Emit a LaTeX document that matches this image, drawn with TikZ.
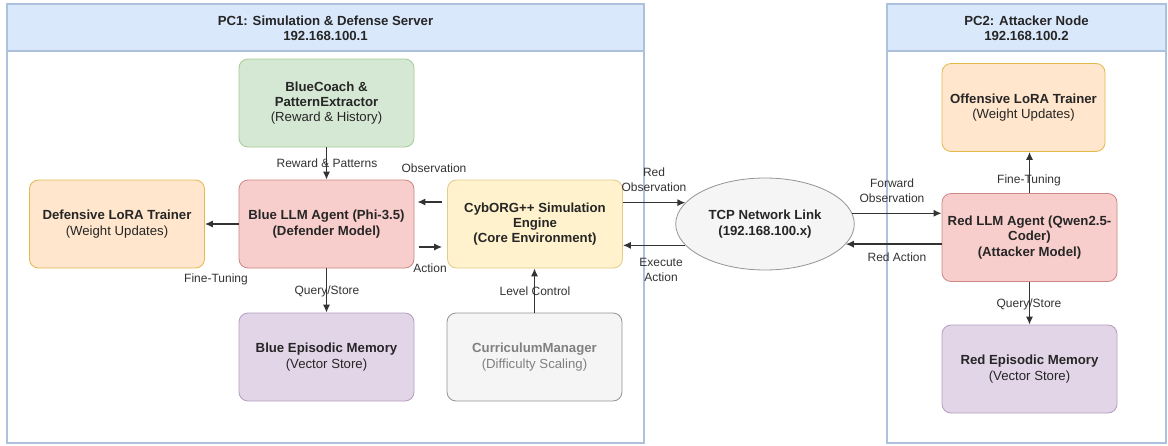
\documentclass[tikz,border=0pt]{standalone}
\usepackage{fontspec}
\setmainfont{Liberation Sans}
\usetikzlibrary{shapes.geometric, arrows.meta}

\definecolor{lanefill}{HTML}{DAE8FC}
\definecolor{laneline}{HTML}{6C8EBF}
\definecolor{greenfill}{HTML}{D5E8D4}
\definecolor{greenline}{HTML}{82B366}
\definecolor{orangefill}{HTML}{FFE6CC}
\definecolor{orangeline}{HTML}{D79B00}
\definecolor{redfill}{HTML}{F8CECC}
\definecolor{redline}{HTML}{B85450}
\definecolor{yellowfill}{HTML}{FFF2CC}
\definecolor{yellowline}{HTML}{D6B656}
\definecolor{purplefill}{HTML}{E1D5E7}
\definecolor{purpleline}{HTML}{9673A6}
\definecolor{grayfill}{HTML}{F5F5F5}
\definecolor{grayline}{HTML}{666666}

\newcommand{\boxfont}{\fontsize{6.6}{7.7}\selectfont\bfseries}
\newcommand{\lblfont}{\fontsize{6}{7.4}\selectfont}

\begin{document}
\begin{tikzpicture}[x=0.5pt, y=-0.5pt,
		box/.style = {draw=#1line!70, fill=#1fill, rounded corners=4.5pt,
				minimum width=87.5pt, minimum height=44pt, align=center,
				inner sep=1pt, font=\boxfont, text=black!85},
		lbl/.style = {font=\lblfont, align=center, inner sep=0pt,
				text=black!80},
		lane/.style = {draw=laneline!55, line width=0.6pt},
		link/.style = {->, black!80, line width=0.7pt},
		>={Latex[length=4pt, width=3.6pt]}
	]
	\useasboundingbox (0,0) rectangle (1168,445);

	% the two machines
	\draw[lane, fill=white] (7,4) rectangle (644,443);
	\draw[lane, fill=lanefill] (7,4) rectangle (644,51);
	\node[font=\boxfont, align=center, text=black!85] (pc1) at (325.5,28)
	{PC1: Simulation \& Defense Server\\192.168.100.1};

	\draw[lane, fill=white] (887,4) rectangle (1166,443);
	\draw[lane, fill=lanefill] (887,4) rectangle (1166,51);
	\node[font=\boxfont, align=center, text=black!85] (pc2) at (1026.5,28)
	{PC2: Attacker Node\\192.168.100.2};

	% defender side
	\node[box=green] (coach) at (326.5,103)
	{BlueCoach \&\\PatternExtractor\\\mdseries(Reward \& History)};
	\node[box=orange] (dlora) at (117,224)
	{Defensive LoRA Trainer\\\mdseries(Weight Updates)};
	\node[box=red] (blue) at (326.5,224)
	{Blue LLM Agent (Phi-3.5)\\(Defender Model)};
	\node[box=yellow] (cyb) at (535,224)
	{CybORG++ Simulation\\Engine\\(Core Environment)};
	\node[box=purple] (bmem) at (326.5,357)
	{Blue Episodic Memory\\\mdseries(Vector Store)};
	\node[box=gray, text=black!50] (curr) at (534.5,357)
	{CurriculumManager\\\mdseries(Difficulty Scaling)};

	% network link
	\node[ellipse, draw=grayline!70, fill=grayfill, minimum width=88pt,
		minimum height=46pt, align=center, font=\boxfont, text=black!85]
	(tcp) at (765,224) {TCP Network Link\\(192.168.100.x)};

	% attacker side
	\node[box=orange, minimum width=81.5pt] (olora) at (1023.5,107.5)
	{Offensive LoRA Trainer\\\mdseries(Weight Updates)};
	\node[box=red] (red) at (1029.5,237.5)
	{Red LLM Agent (Qwen2.5-\\Coder)\\(Attacker Model)};
	\node[box=purple] (rmem) at (1029.5,369)
	{Red Episodic Memory\\\mdseries(Vector Store)};

	% connectors
	\draw[link] (coach) -- (blue);
	\draw[link, shorten <=2.5pt, shorten >=1.5pt]
	([yshift=11pt]cyb.west) -- ([yshift=11pt]blue.east);
	\draw[link, shorten <=2.5pt, shorten >=2.5pt]
	([yshift=-11.5pt]blue.east) -- ([yshift=-11.5pt]cyb.west);
	\draw[link] (blue) -- (dlora);
	\draw[link] (blue) -- (bmem);
	\draw[link] (curr.north) -- (curr.north |- cyb.south);

	\draw[link] (cyb.east |- tcp.165) -- (tcp.165);
	\draw[link] (tcp.195) -- (cyb.east |- tcp.195);
	\draw[link] (tcp.7) -- (tcp.7 -| red.west);
	\draw[link] (red.west |- tcp.-14) -- (tcp.-14);
	\draw[link] (red.north) -- (red.north |- olora.south);
	\draw[link] (red) -- (rmem);

	% connector labels
	\node[lbl] (lrew) at (327,163) {Reward \& Patterns};
	\node[lbl] (lobs) at (434,168) {Observation};
	\node[lbl] (lact) at (430,268) {Action};
	\node[lbl] (lft1) at (216,279) {Fine-Tuning};
	\node[lbl] (lqs1) at (327,291) {Query/Store};
	\node[lbl] (llvl) at (535,291) {Level Control};
	\node[lbl] (lrobs) at (654,180) {Red\\Observation};
	\node[lbl] (lexe) at (661,270) {Execute\\Action};
	\node[lbl] (lfwd) at (892,191) {Forward\\Observation};
	\node[lbl] (lract) at (897,257) {Red Action};
	\node[lbl] (lft2) at (1029,180) {Fine-Tuning};
	\node[lbl] (lqs2) at (1029,304) {Query/Store};
\end{tikzpicture}
\end{document}
